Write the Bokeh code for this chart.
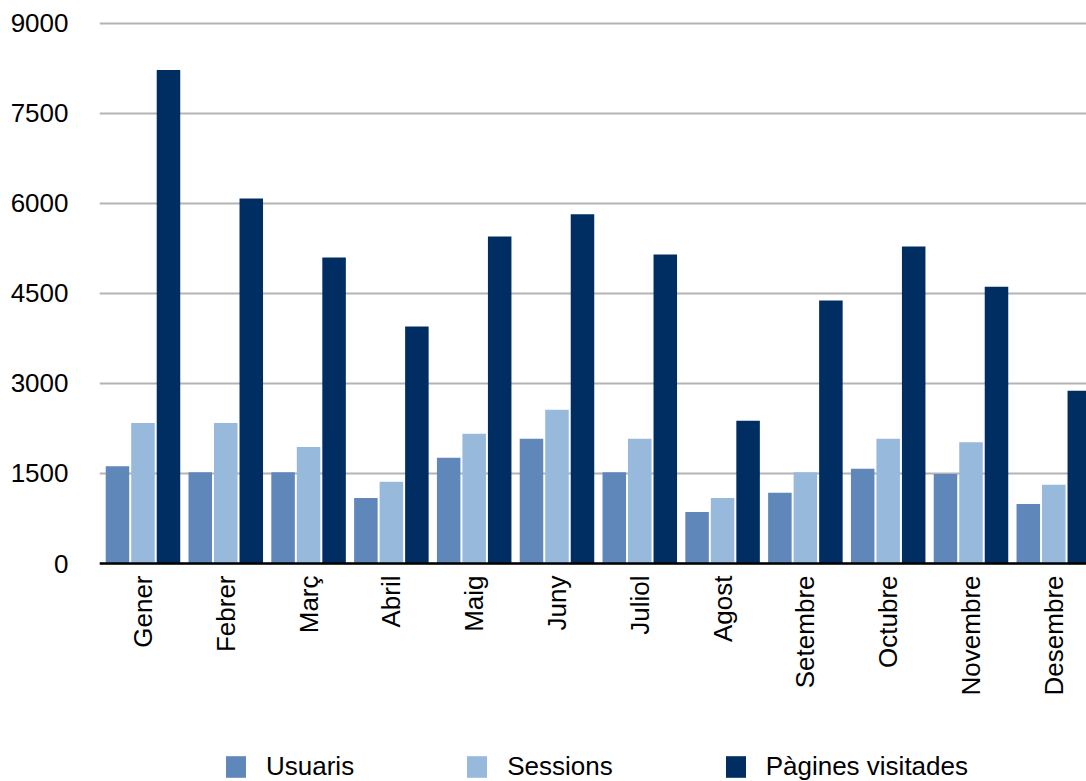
import math
import numpy as np
from bokeh.plotting import figure
from bokeh.models import Range1d, FixedTicker, Legend, LegendItem, Span
from bokeh.core.properties import value
from bokeh.embed import file_html
from bokeh.resources import INLINE

months = ["Gener", "Febrer", "Març", "Abril", "Maig", "Juny", "Juliol",
          "Agost", "Setembre", "Octubre", "Novembre", "Desembre"]
usuaris = [1620, 1520, 1520, 1090, 1760, 2080, 1520, 860, 1180, 1580, 1490, 990]
sessions = [2340, 2340, 1940, 1360, 2160, 2560, 2080, 1090, 1520, 2080, 2020, 1310]
pagines = [8220, 6080, 5100, 3950, 5450, 5820, 5150, 2380, 4380, 5280, 4610, 2880]
series_names = ["Usuaris", "Sessions", "Pàgines visitades"]
series_colors = ["#5f87b9", "#97b9db", "#002d62"]
y_ticks = [0, 1500, 3000, 4500, 6000, 7500, 9000]

FONT = "Liberation Sans"

W, H = 1086, 781
TOP, LEFT = 21, 99
Y_MAX = 9030
PLOT_PX = 542                       # pixels between 0 and Y_MAX
px_per_unit = PLOT_PX / Y_MAX
y_min = -(H - TOP - PLOT_PX) / px_per_unit   # frame reaches the canvas bottom
label_standoff_px = 12

centers = np.arange(len(months)) + 0.5

p = figure(width=W, height=H,
           x_range=Range1d(-0.025, 11.895), y_range=Range1d(y_min, Y_MAX),
           output_backend="svg", toolbar_location=None, x_axis_location=None,
           min_border_left=LEFT, min_border_right=0,
           min_border_top=TOP, min_border_bottom=0)

offsets = [-0.308, 0.0, 0.308]
renderers = []
for vals, off, col in zip([usuaris, sessions, pagines], offsets, series_colors):
    r = p.vbar(x=centers + off, top=vals, width=0.284, fill_color=col, line_color=None)
    renderers.append(r)

p.outline_line_color = None
p.background_fill_color = "white"
p.border_fill_color = "white"

# grid: horizontal lines only
p.xgrid.grid_line_color = None
p.xgrid.visible = False
p.ygrid.ticker = FixedTicker(ticks=y_ticks)
p.ygrid.grid_line_color = "#b4b4b4"
p.ygrid.grid_line_width = 2

# y axis
p.yaxis.ticker = FixedTicker(ticks=y_ticks)
p.yaxis.axis_line_color = None
p.yaxis.major_tick_line_color = None
p.yaxis.minor_tick_line_color = None
p.yaxis.major_tick_out = 0
p.yaxis.major_tick_in = 0
p.yaxis.major_label_standoff = 31
p.yaxis.major_label_text_font = FONT
p.yaxis.major_label_text_font_size = "26px"
p.yaxis.major_label_text_color = "black"

# category baseline (x axis line at 0)
p.add_layout(Span(location=0, dimension="width", line_color="black", line_width=2.5))

# month labels, vertical, reading upwards, hanging below the baseline
p.text(x=centers, y=[-label_standoff_px / px_per_unit] * len(months), text=months,
       angle=math.pi / 2, text_align="right", text_baseline="middle",
       text_font=value(FONT), text_font_size="26px", text_color="black")

legend = Legend(
    items=[LegendItem(label=n, renderers=[r]) for n, r in zip(series_names, renderers)],
    orientation="horizontal", location=(124, -1),
    glyph_width=25, glyph_height=27, label_standoff=18, spacing=110,
    padding=0, margin=0, border_line_color=None, background_fill_alpha=0,
    label_text_font=FONT, label_text_font_size="26px", label_text_color="black",
)
p.add_layout(legend)

open("out.html", "w").write(file_html(p, INLINE))
